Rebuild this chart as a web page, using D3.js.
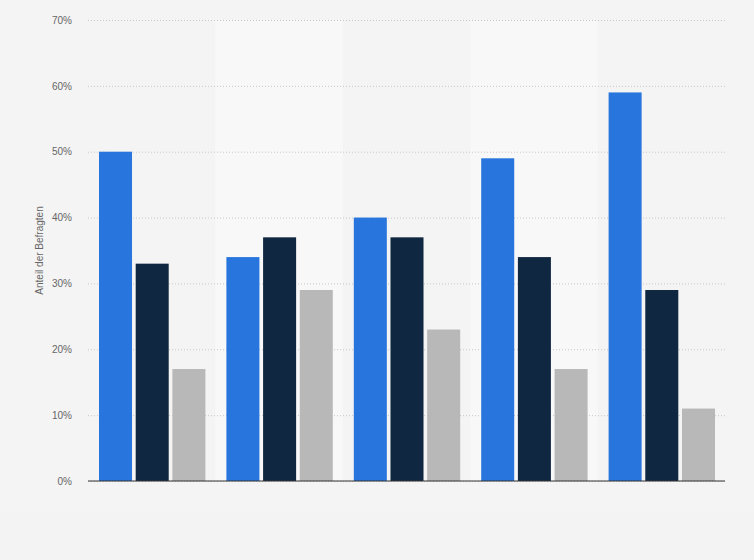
<!DOCTYPE html>
<html lang="de">
  <head>
    <meta charset="utf-8" />
    <title>Anteil der Befragten</title>
    <style>
      body { margin: 0; background: #f4f4f4; }
      text { font-family: "Liberation Sans", Arial, sans-serif; }
    </style>
  </head>
  <body>
    <script src="https://d3js.org/d3.v7.min.js"></script>
    <div id="chart"></div>
    <script>
      // data (values in percent)
      const groups = ["G1", "G2", "G3", "G4", "G5"];
      const seriesNames = ["A", "B", "C"];
      const seriesA = [50, 34, 40, 49, 59];
      const seriesB = [33, 37, 37, 34, 29];
      const seriesC = [17, 29, 23, 17, 11];
      const yTicks = [0, 10, 20, 30, 40, 50, 60, 70];
      const colors = ["#2876dd", "#0f2740", "#b8b8b8"];

      const W = 754, H = 560;
      const margin = { top: 20, right: 29, bottom: 79, left: 88 };
      const width = W - margin.left - margin.right,
        height = H - margin.top - margin.bottom;

      const svg = d3.select("#chart").append("svg")
        .attr("width", W).attr("height", H);

      svg.append("rect").attr("width", W).attr("height", H).attr("fill", "#f4f4f4");
      svg.append("rect").attr("y", 512).attr("width", W).attr("height", H - 512).attr("fill", "#f3f3f3");

      const g = svg.append("g").attr("transform", `translate(${margin.left},${margin.top})`);

      const x0 = d3.scaleBand().domain(groups).range([0, width]).padding(0);
      const x1 = d3.scaleBand().domain(seriesNames)
        .range([11, x0.bandwidth() - 10]).paddingInner(0.1);
      const y = d3.scaleLinear().domain([0, 70]).range([height, 0]);

      // alternating column bands
      g.selectAll(".band").data(groups.filter((d, i) => i % 2 === 1))
        .join("rect")
        .attr("x", d => x0(d)).attr("y", 0)
        .attr("width", x0.bandwidth()).attr("height", height)
        .attr("fill", "#f8f8f8");

      // grid lines
      g.append("g")
        .call(d3.axisLeft(y).tickValues(yTicks).tickSize(-width).tickFormat(""))
        .call(a => a.select(".domain").remove())
        .call(a => a.selectAll("line")
          .attr("stroke", "#c8c8c8").attr("stroke-dasharray", "1,2"));

      // tick labels
      g.append("g")
        .call(d3.axisLeft(y).tickValues(yTicks).tickSize(0).tickPadding(16)
          .tickFormat(d => d + "%"))
        .call(a => a.select(".domain").remove())
        .call(a => a.selectAll("text").attr("fill", "#666").attr("font-size", 10));

      const rows = groups.map((grp, i) => ({
        grp, values: [seriesA[i], seriesB[i], seriesC[i]]
      }));

      g.selectAll(".grp").data(rows).join("g")
        .attr("transform", d => `translate(${x0(d.grp)},0)`)
        .selectAll("rect")
        .data(d => d.values.map((v, j) => ({ key: seriesNames[j], v, j })))
        .join("rect")
        .attr("x", d => x1(d.key))
        .attr("y", d => y(d.v))
        .attr("width", x1.bandwidth())
        .attr("height", d => height - y(d.v))
        .attr("fill", d => colors[d.j]);

      // baseline
      g.append("line")
        .attr("x1", 0).attr("x2", width)
        .attr("y1", y(0)).attr("y2", y(0))
        .attr("stroke", "#333").attr("stroke-width", 1);

      svg.append("text")
        .attr("transform", `translate(43,${margin.top + height / 2}) rotate(-90)`)
        .attr("text-anchor", "middle")
        .attr("font-size", 10).attr("fill", "#666")
        .text("Anteil der Befragten");
    </script>
  </body>
</html>
